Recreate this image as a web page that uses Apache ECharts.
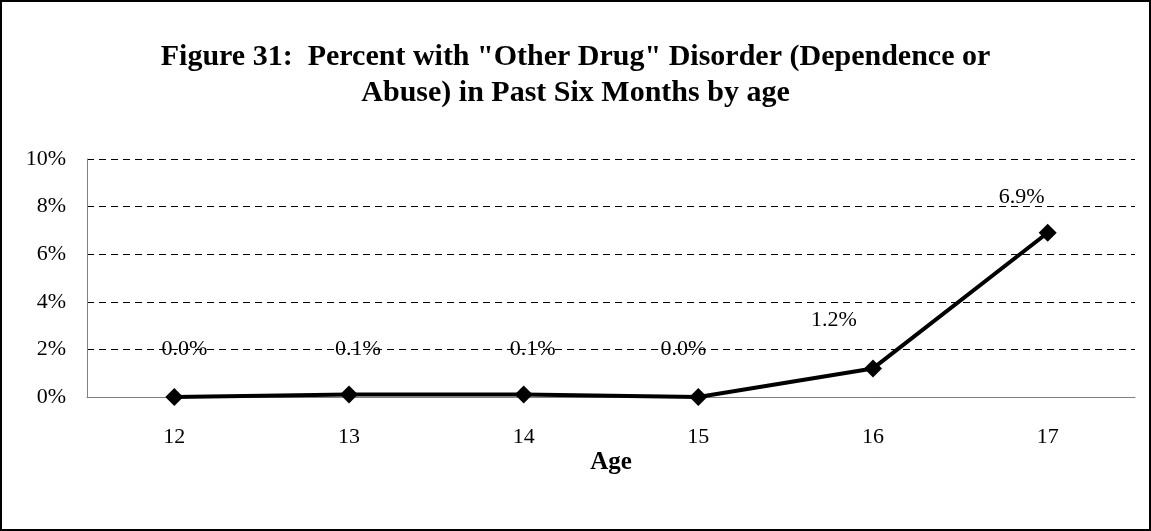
<!DOCTYPE html>
<html>
<head>
<meta charset="utf-8">
<script src="https://cdn.jsdelivr.net/npm/echarts@6/dist/echarts.min.js"></script>
<style>
  html, body { margin: 0; padding: 0; background: #fff; }
  #chart { width: 1151px; height: 531px; box-sizing: border-box; border: 2px solid #000; }
</style>
</head>
<body>
<div id="chart"></div>
<script>
// Ages on the x axis
const ages = ['12', '13', '14', '15', '16', '17'];
// Percent with "Other Drug" disorder at each age
const percents = [0.0, 0.1, 0.1, 0.0, 1.2, 6.9];
// Y axis ticks (percent)
const yTicks = [0, 2, 4, 6, 8, 10];

// Hand-placed value label nudges [dx, dy], one per age
const labelNudges = [[10, -48], [9, -45], [9, -45], [-15, -48], [-39, -48], [-26, -36]];

const chart = echarts.init(document.getElementById('chart'));
const serif = '"Liberation Serif", "Times New Roman", serif';

chart.setOption({
  animation: false,
  title: {
    text: 'Figure 31:  Percent with "Other Drug" Disorder (Dependence or\nAbuse) in Past Six Months by age',
    left: 'center',
    top: 32,
    textStyle: { fontFamily: serif, fontWeight: 'bold', fontSize: 30, color: '#000', lineHeight: 36 }
  },
  grid: { left: 85, right: 14, top: 157, bottom: 132 },
  xAxis: {
    type: 'category',
    data: ages,
    boundaryGap: true,
    name: 'Age',
    nameLocation: 'middle',
    nameGap: 53,
    nameTextStyle: { fontFamily: serif, fontWeight: 'bold', fontSize: 25, color: '#000' },
    axisLine: { lineStyle: { color: '#808080', width: 1 } },
    axisTick: { show: false },
    axisLabel: { fontFamily: serif, fontSize: 22, color: '#000', margin: 29 },
    splitLine: { show: false }
  },
  yAxis: {
    type: 'value',
    min: yTicks[0],
    max: yTicks[yTicks.length - 1],
    interval: 2,
    axisLine: { show: true, lineStyle: { color: '#808080', width: 1 } },
    axisTick: { show: false },
    axisLabel: { fontFamily: serif, fontSize: 22, color: '#000', margin: 21, formatter: v => v + '%' },
    splitLine: { show: true, lineStyle: { color: '#000', width: 1, type: [7, 5] } }
  },
  series: [{
    type: 'line',
    data: percents.map((v, i) => ({
      value: v,
      label: { offset: labelNudges[i] }
    })),
    symbol: 'diamond',
    symbolSize: 18,
    lineStyle: { color: '#000', width: 4 },
    itemStyle: { color: '#000' },
    label: {
      show: true,
      position: 'inside',
      fontFamily: serif,
      fontSize: 22,
      color: '#000',
      formatter: p => p.value.toFixed(1) + '%'
    },
    z: 3
  }]
});
</script>
</body>
</html>
